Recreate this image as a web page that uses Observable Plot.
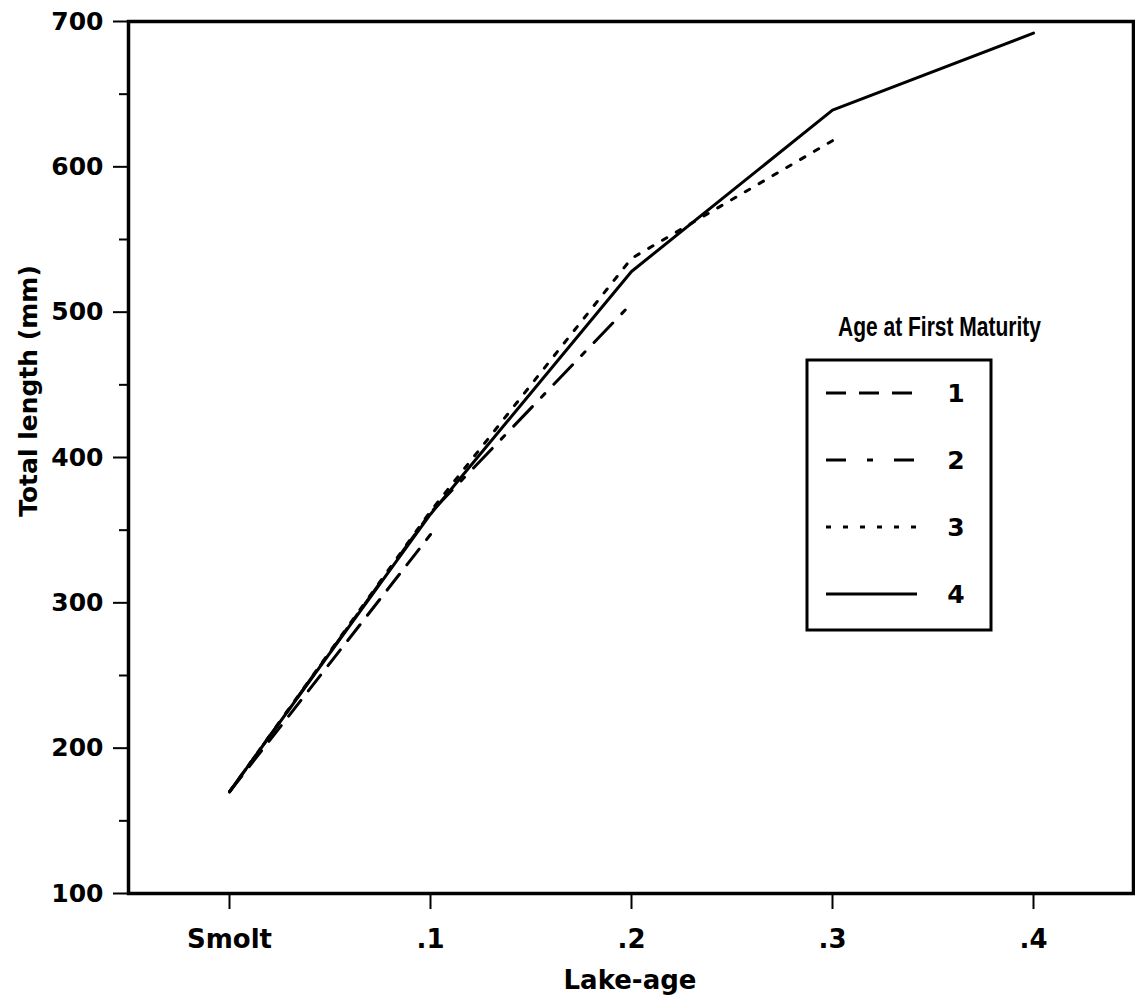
<!DOCTYPE html>
<html><head><meta charset="utf-8">
<script src="https://cdn.jsdelivr.net/npm/d3@7"></script>
<script src="https://cdn.jsdelivr.net/npm/@observablehq/plot@0.6"></script>
<style>body{margin:0;background:#fff} #chart svg{display:block}</style>
</head><body><div id="chart"></div>
<script>
// ---- data ----
const lakeAges = ["Smolt", ".1", ".2", ".3", ".4"];
const seriesLabels = ["1", "2", "3", "4"];
const series1 = [170, 347];
const series2 = [170, 362, 506];
const series3 = [170, 363, 537, 618];
const series4 = [170, 361, 528, 639, 692];
const yTicks = [100, 200, 300, 400, 500, 600, 700];
const yMinorTicks = [150, 250, 350, 450, 550, 650];
const xTitle = "Lake-age";
const yTitle = "Total length (mm)";
const legendTitle = "Age at First Maturity";

const seriesValues = [series1, series2, series3, series4];
const rows = [];
seriesValues.forEach((vals, i) => vals.forEach((v, j) =>
  rows.push({series: seriesLabels[i], age: lakeAges[j], length: v})));

// ---- styles ----
const plotDash = ["20,12", "27,13,5,13", "5,11", null];
const legendDash = ["20,13", "20,21,6,21", "5,12", null];
const drawOrder = [3, 2, 1, 0];

const lineMarks = drawOrder.map(i => Plot.line(rows.filter(d => d.series === seriesLabels[i]), {
  x: "age", y: "length", stroke: "black", strokeWidth: 3,
  strokeDasharray: plotDash[i] || undefined, strokeLinejoin: "round"
}));

const plot = Plot.plot({
  width: 1135, height: 1005,
  marginTop: 21, marginRight: 2, marginBottom: 112, marginLeft: 128,
  style: {fontFamily: "DejaVu Sans", fontWeight: "bold", background: "white", color: "black"},
  x: {type: "point", domain: lakeAges, padding: 0.5, label: null},
  y: {domain: [100, 700], label: null},
  marks: [
    Plot.axisY(yMinorTicks, {tickSize: 9, strokeWidth: 2, tickFormat: () => "", label: null}),
    Plot.axisY(yTicks, {tickSize: 15, tickPadding: 10, fontSize: 25, strokeWidth: 2, label: null}),
    Plot.axisX({tickSize: 16, tickPadding: 20, fontSize: 26, strokeWidth: 2, label: null}),
    ...lineMarks,
    Plot.frame({strokeWidth: 3.5})
  ]
});
document.getElementById("chart").appendChild(plot);

const svg = d3.select(plot);
// axis titles
svg.append("text").text(yTitle)
  .attr("transform", "translate(37,391) rotate(-90)")
  .attr("text-anchor", "middle").attr("font-family", "DejaVu Sans")
  .attr("font-weight", "bold").attr("font-size", 25).attr("fill", "black");
svg.append("text").text(xTitle)
  .attr("x", 630).attr("y", 989)
  .attr("text-anchor", "middle").attr("font-family", "DejaVu Sans")
  .attr("font-weight", "bold").attr("font-size", 26).attr("fill", "black");

// legend
const lg = svg.append("g");
lg.append("text").text(legendTitle)
  .attr("x", 838).attr("y", 336).attr("text-anchor", "start")
  .attr("textLength", 203).attr("lengthAdjust", "spacingAndGlyphs")
  .attr("font-family", "Liberation Sans").attr("font-weight", "bold")
  .attr("font-size", 28).attr("fill", "black");
lg.append("rect").attr("x", 807).attr("y", 360).attr("width", 184).attr("height", 270)
  .attr("fill", "white").attr("stroke", "black").attr("stroke-width", 3);
seriesLabels.forEach((lab, i) => {
  const yy = 393 + i * 67;
  const ln = lg.append("line").attr("x1", 826).attr("x2", 917).attr("y1", yy).attr("y2", yy)
    .attr("stroke", "black").attr("stroke-width", 3);
  if (legendDash[i]) ln.attr("stroke-dasharray", legendDash[i]);
  lg.append("text").text(lab).attr("x", 956).attr("y", yy + 9)
    .attr("text-anchor", "middle").attr("font-family", "DejaVu Sans")
    .attr("font-weight", "bold").attr("font-size", 25).attr("fill", "black");
});
</script>
</body></html>
